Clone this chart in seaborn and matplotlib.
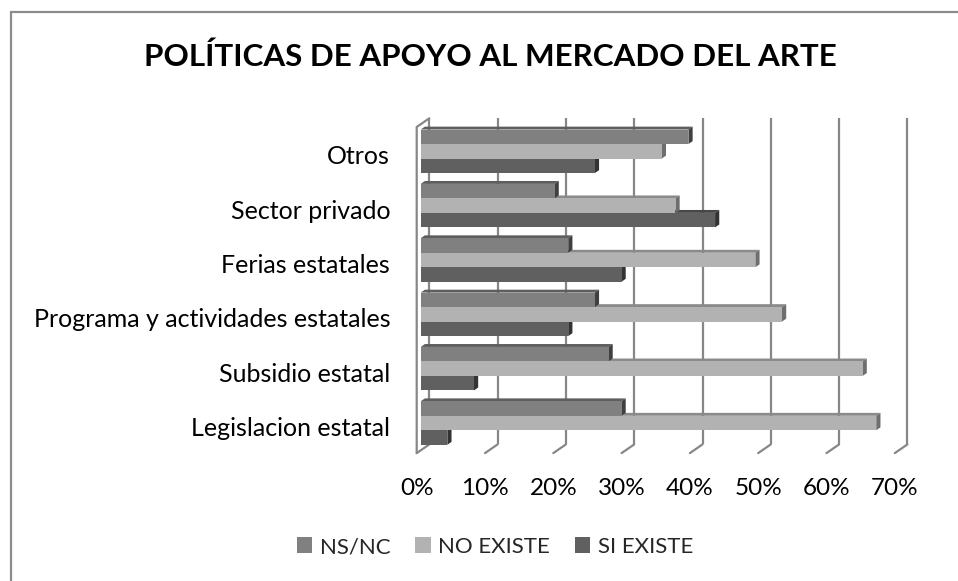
import numpy as np
import pandas as pd
import matplotlib
matplotlib.use("Agg")
import matplotlib.pyplot as plt
import matplotlib.transforms as mtransforms
from matplotlib.patches import Polygon, Patch, Rectangle
from matplotlib.lines import Line2D
import seaborn as sns

categories = ["Otros", "Sector privado", "Ferias estatales",
              "Programa y actividades estatales", "Subsidio estatal",
              "Legislacion estatal"]
series = ["NS/NC", "NO EXISTE", "SI EXISTE"]
ns_nc = [39.2, 19.6, 21.6, 25.5, 27.5, 29.4]
no_existe = [35.3, 37.3, 49.0, 52.9, 64.7, 66.7]
si_existe = [25.5, 43.1, 29.4, 21.6, 7.8, 3.9]
xticks = [0, 10, 20, 30, 40, 50, 60, 70]
xticklabels = ["0%", "10%", "20%", "30%", "40%", "50%", "60%", "70%"]
title = "POLÍTICAS DE APOYO AL MERCADO DEL ARTE"

front_cols = ["#808080", "#b2b2b2", "#606060"]
top_cols = ["#5e5e5e", "#8a8a8a", "#474747"]
side_cols = ["#404040", "#6e6e6e", "#333333"]

df = pd.DataFrame({
    "cat": categories * 3,
    "serie": [s for s in series for _ in categories],
    "value": ns_nc + no_existe + si_existe,
})

sns.set_theme(style="white")
plt.rcParams["font.family"] = ["Lato", "DejaVu Sans"]

W, H = 958, 581
dpi = 100
fig = plt.figure(figsize=(W / dpi, H / dpi), dpi=dpi)

# chart border (extends past right/bottom edges)
fig.patches.append(Rectangle((11 / W, -0.1), 1.2, 1 - 12 / H + 0.1,
                             transform=fig.transFigure, fill=False,
                             edgecolor="#8c8c8c", linewidth=1.6, zorder=0))

left_px, right_px = 420.7, 898.8
top_px, bot_px = 124.1, 450.2
ax = fig.add_axes([left_px / W, (H - bot_px) / H,
                   (right_px - left_px) / W, (bot_px - top_px) / H])

sns.barplot(data=df, y="cat", x="value", hue="serie", orient="h",
            order=categories, hue_order=series, palette=front_cols,
            width=0.8, saturation=1, legend=False, ax=ax, zorder=3,
            linewidth=0)
ax.set_xlim(0, 70)
ax.set_ylim(5.5, -0.5)
ax.set_facecolor("none")
for s in ax.spines.values():
    s.set_visible(False)
ax.set_xlabel("")
ax.set_ylabel("")

px = 1.0 / dpi
def shift(dx, dy):
    return ax.transData + mtransforms.ScaledTranslation(dx * px, dy * px, fig.dpi_scale_trans)

grid_kw = dict(color="#878787", linewidth=1.6, zorder=0.5, clip_on=False)
# back wall gridlines
back = shift(8.6, 5.8)
ax.vlines(xticks, -0.5, 5.5, transform=back, **grid_kw)
# floor slants & left wall
fig.canvas.draw()
def disp(x, y, dx, dy):
    p = ax.transData.transform((x, y))
    return p[0] + dx, p[1] + dy
ident = mtransforms.IdentityTransform()
for xv in xticks:
    a = disp(xv, 5.5, -4.0, -2.9)
    b = disp(xv, 5.5, 8.6, 5.8)
    ax.add_line(Line2D([a[0], b[0]], [a[1], b[1]], transform=ident, **grid_kw))
a = disp(0, -0.5, -4.0, -2.9)
b = disp(0, 5.5, -4.0, -2.9)
c = disp(0, -0.5, 8.6, 5.8)
ax.add_line(Line2D([c[0], a[0], b[0]], [c[1], a[1], b[1]], transform=ident, **grid_kw))

# 3D faces of bars
ddx, ddy = 4.2, 2.9
bars = [p for p in ax.patches if isinstance(p, Rectangle)]
n = len(categories)
for i, p in enumerate(bars):
    si = i // n
    x0, y0 = p.get_x(), p.get_y()
    w, h = p.get_width(), p.get_height()
    (X0, Yb) = ax.transData.transform((x0, y0 + h))
    (X1, Yt) = ax.transData.transform((x0 + w, y0))
    topf = Polygon([(X0, Yt), (X1, Yt), (X1 + ddx, Yt + ddy), (X0 + ddx, Yt + ddy)],
                   closed=True, transform=ident, facecolor=top_cols[si],
                   edgecolor="none", zorder=2)
    side = Polygon([(X1, Yb), (X1, Yt), (X1 + ddx, Yt + ddy), (X1 + ddx, Yb + ddy)],
                   closed=True, transform=ident, facecolor=side_cols[si],
                   edgecolor="none", zorder=2.5)
    ax.add_patch(topf)
    ax.add_patch(side)

ax.set_xticks(xticks)
ax.set_xticklabels(xticklabels)
ax.tick_params(axis="x", length=0, pad=20, labelsize=17.5, labelcolor="#000000")
ax.tick_params(axis="y", length=0, pad=22, labelsize=18, labelcolor="#000000")
for lab in ax.get_xticklabels():
    lab.set_transform(lab.get_transform() + mtransforms.ScaledTranslation(-4 * px, 0, fig.dpi_scale_trans))
for lab in ax.get_yticklabels():
    lab.set_transform(lab.get_transform() + mtransforms.ScaledTranslation(0, -3.5 * px, fig.dpi_scale_trans))

fig.text(490 / W, 1 - 57 / H, title, ha="center", va="center",
         fontsize=22.6, fontweight="bold", color="#000000")

handles = [Patch(facecolor=c, edgecolor="none") for c in front_cols]
fig.legend(handles, series, loc="center", bbox_to_anchor=(495 / W, 1 - 547 / H),
           ncol=3, frameon=False, fontsize=16, handlelength=0.7, handleheight=0.7,
           handletextpad=0.35, columnspacing=1.1)

fig.savefig("out.png", dpi=dpi)
